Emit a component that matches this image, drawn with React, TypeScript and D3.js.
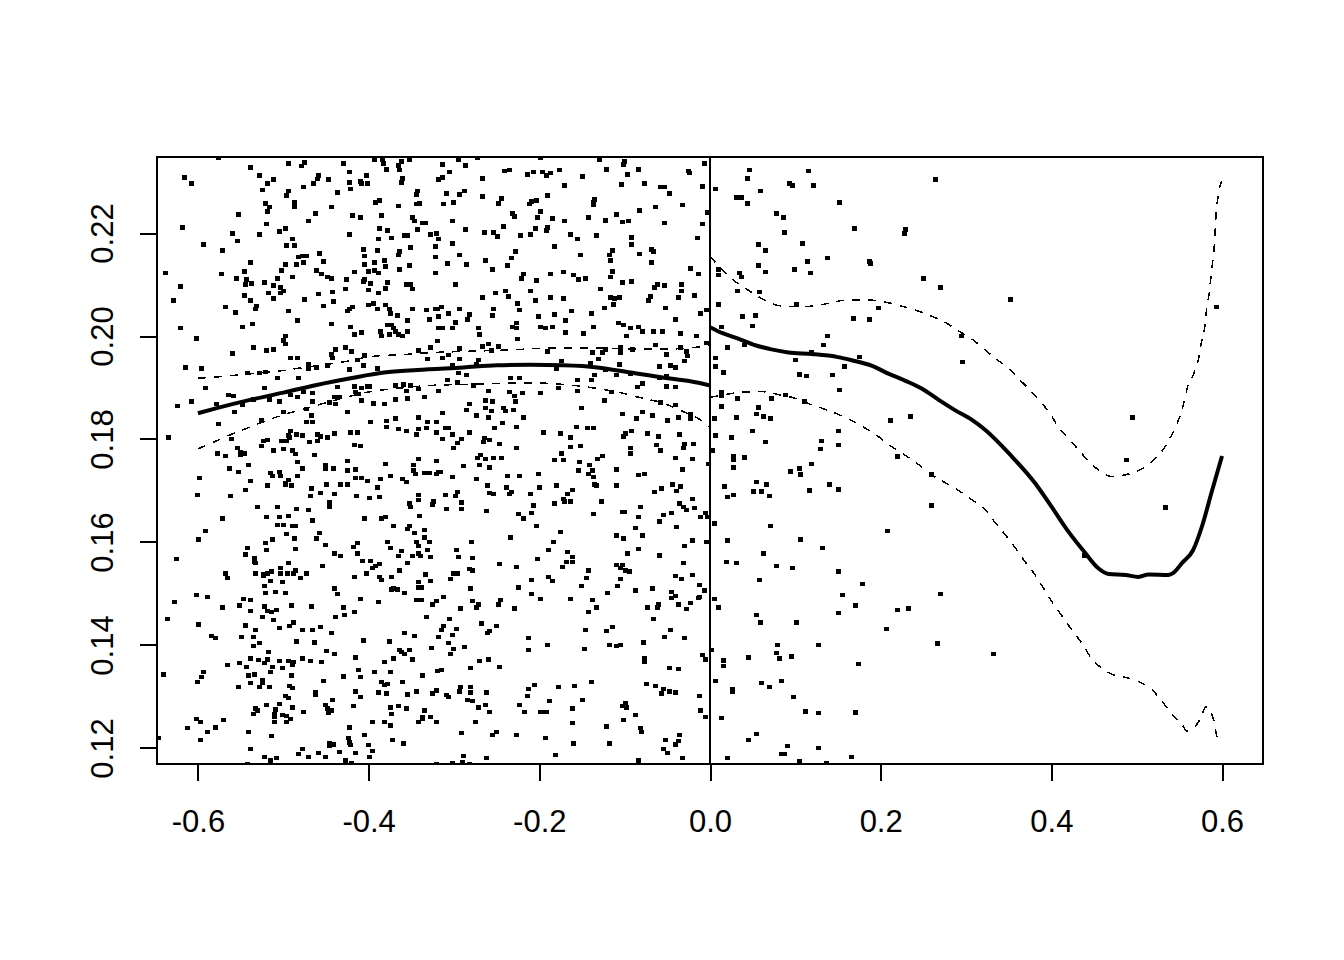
/**
 * Scatter with local fits either side of a cutoff at zero
 */
import { useEffect, useRef } from 'react';
import * as d3 from 'd3';

type Pt = [number, number];

const xTicks = [-0.6, -0.4, -0.2, 0, 0.2, 0.4, 0.6];
const yTicks = [0.12, 0.14, 0.16, 0.18, 0.2, 0.22];

const pointsTopFarLeft: Pt[] = [
[-.576,.2347],[-.538,.2327],[-.494,.2335],[-.475,.2337],[-.479,.2330],[-.430,.2335],[-.393,.2342],[-.384,.2343],[-.383,.2335],[-.361,.2339],[-.352,.2343],[-.365,.2331],[-.364,.2322],[-.379,.2323],[-.616,.2308],[-.608,.2296],[-.528,.2312],[-.512,.2304],[-.518,.2296],[-.459,.2312],[-.460,.2305],[-.465,.2296],[-.447,.2304],[-.423,.2318],[-.402,.2312],[-.422,.2298],[-.410,.2300],[-.408,.2296],[-.401,.2296],[-.360,.2306],[-.361,.2298],[-.318,.2304],[-.524,.2283],[-.494,.2281],[-.496,.2273],[-.476,.2289],[-.436,.2279],[-.421,.2285],[-.343,.2281],[-.344,.2275],[-.521,.2257],[-.516,.2250],[-.518,.2242],[-.487,.2259],[-.487,.2250],[-.444,.2250],[-.392,.2259],[-.387,.2263],[-.365,.2252],[-.344,.2256],[-.340,.2257],[-.552,.2236],[-.462,.2238],[-.419,.2234],[-.409,.2230],[-.385,.2234],[-.349,.2230],[-.346,.2223],[-.337,.2219],[-.333,.2219],[-.470,.2223],[-.520,.2217],[-.618,.2211],[-.559,.2199],[-.528,.2197],[-.505,.2203],[-.497,.2209],[-.422,.2197],[-.387,.2209],[-.378,.2205],[-.343,.2207],[-.358,.2195],[-.354,.2195],[-.327,.2197],[-.321,.2199],[-.554,.2184],[-.489,.2188],[-.388,.2188],[-.373,.2190],[-.318,.2188],[-.593,.2178],[-.496,.2176],[-.487,.2176],[-.351,.2172],[-.322,.2174],[-.571,.2166],[-.406,.2168],[-.390,.2166],[-.364,.2164],[-.365,.2157],[-.457,.2160],[-.405,.2155],[-.322,.2153],[-.482,.2153],[-.477,.2155],[-.473,.2155],[-.539,.2143],[-.453,.2145],[-.476,.2143],[-.484,.2139],[-.497,.2139],[-.405,.2139],[-.393,.2143],[-.382,.2147],[-.380,.2135],[-.352,.2137],[-.364,.2129],[-.502,.2127],[-.545,.2125],[-.461,.2127],[-.400,.2125],[-.393,.2127],[-.389,.2122],[-.417,.2124],[-.638,.2122],[-.572,.2120],[-.455,.2120],[-.322,.2122],[-.555,.2112],[-.543,.2110],[-.507,.2112],[-.489,.2114],[-.448,.2114],[-.444,.2112],[-.426,.2110],[-.405,.2110],[-.406,.2106],[-.544,.2100],[-.537,.2102],[-.522,.2104],[-.398,.2102],[-.378,.2104],[-.356,.2100],[-.351,.2100],[-.620,.2096],[-.512,.2098],[-.503,.2094],[-.349,.2091],[-.427,.2091],[-.400,.2089],[-.380,.2092],[-.388,.2083],[-.517,.2083],[-.500,.2087],[-.503,.2083],[-.545,.2079],[-.459,.2081],[-.442,.2085],[-.511,.2073],[-.629,.2069],[-.538,.2069],[-.475,.2071],[-.441,.2067],[-.568,.2056],[-.531,.2058],[-.532,.2052],[-.453,.2058],[-.419,.2056],[-.422,.2052],[-.425,.2048],[-.400,.2060],[-.394,.2063],[-.390,.2052],[-.380,.2060],[-.376,.2052],[-.374,.2044],[-.349,.2052],[-.332,.2050],[-.322,.2052],[-.319,.2052],[-.556,.2046],[-.494,.2048],[-.366,.2040],[-.318,.2038],[-.483,.2030],[-.329,.2032],[-.355,.2030],[-.536,.2023],[-.548,.2017],[-.620,.2015],[-.444,.2023],[-.421,.2017],[-.378,.2021],[-.373,.2021],[-.371,.2015],[-.318,.2015],[-.386,.2009],[-.385,.2000],[-.417,.2003],[-.408,.2007],[-.375,.2003],[-.368,.2009],[-.365,.2003],[-.360,.2000],[-.355,.2009],[-.497,.2000],[-.602,.1995],[-.500,.1991],[-.498,.1984],[-.319,.1990],[-.535,.1978],[-.520,.1972],[-.511,.1974],[-.427,.1978],[-.439,.1974],[-.420,.1970],[-.559,.1966],[-.444,.1964],[-.341,.1972],[-.328,.1978],[-.405,.1962],[-.491,.1957],[-.483,.1957],[-.442,.1957],
];

const pointsTopNearLeft: Pt[] = [
[-.295,.2343],[-.314,.2333],[-.286,.2331],[-.273,.2347],[-.305,.2318],[-.314,.2308],[-.267,.2306],[-.241,.2320],[-.235,.2322],[-.214,.2314],[-.207,.2318],[-.196,.2318],[-.192,.2312],[-.187,.2316],[-.176,.2322],[-.149,.2310],[-.129,.2343],[-.199,.2347],[-.100,.2339],[-.101,.2333],[-.121,.2323],[-.084,.2323],[-.097,.2314],[-.025,.2320],[-.024,.2316],[-.006,.2335],[-.171,.2292],[-.104,.2294],[-.077,.2296],[-.058,.2289],[-.053,.2289],[-.009,.2290],[-.047,.2277],[-.309,.2277],[-.294,.2275],[-.288,.2281],[-.266,.2271],[-.244,.2267],[-.248,.2257],[-.190,.2273],[-.312,.2256],[-.300,.2259],[-.203,.2263],[-.209,.2261],[-.212,.2256],[-.135,.2265],[-.136,.2259],[-.136,.2254],[-.032,.2254],[-.064,.2250],[-.083,.2244],[-.003,.2240],[-.199,.2242],[-.232,.2238],[-.229,.2232],[-.110,.2236],[-.202,.2230],[-.185,.2228],[-.142,.2230],[-.122,.2224],[-.171,.2223],[-.302,.2223],[-.102,.2221],[-.095,.2223],[-.053,.2219],[-.009,.2217],[-.242,.2213],[-.287,.2207],[-.205,.2209],[-.190,.2211],[-.192,.2205],[-.264,.2201],[-.254,.2201],[-.249,.2193],[-.222,.2195],[-.210,.2197],[-.163,.2197],[-.133,.2195],[-.155,.2188],[-.092,.2191],[-.015,.2190],[-.302,.2180],[-.092,.2178],[-.182,.2174],[-.228,.2164],[-.114,.2166],[-.068,.2168],[-.066,.2164],[-.293,.2157],[-.152,.2157],[-.118,.2157],[-.083,.2159],[-.233,.2151],[-.263,.2147],[-.117,.2147],[-.308,.2141],[-.285,.2139],[-.237,.2137],[-.068,.2143],[-.255,.2129],[-.023,.2131],[-.114,.2125],[-.172,.2124],[-.187,.2120],[-.219,.2120],[-.221,.2112],[-.160,.2118],[-.154,.2110],[-.146,.2112],[-.117,.2114],[-.013,.2120],[-.203,.2108],[-.102,.2104],[-.092,.2106],[-.298,.2100],[-.061,.2100],[-.065,.2094],[-.053,.2098],[-.033,.2100],[-.128,.2091],[-.033,.2087],[-.240,.2087],[-.210,.2087],[-.251,.2083],[-.236,.2077],[-.266,.2075],[-.187,.2075],[-.172,.2073],[-.205,.2069],[-.117,.2075],[-.112,.2073],[-.106,.2075],[-.070,.2077],[-.072,.2069],[-.037,.2075],[-.018,.2079],[-.226,.2063],[-.113,.2061],[-.315,.2056],[-.293,.2052],[-.254,.2052],[-.223,.2050],[-.124,.2054],[-.052,.2054],[-.162,.2048],[-.139,.2044],[-.182,.2042],[-.307,.2044],[-.282,.2042],[-.255,.2040],[-.201,.2038],[-.011,.2044],[-.004,.2050],[-.284,.2032],[-.169,.2030],[-.041,.2032],[-.298,.2026],[-.227,.2025],[-.107,.2025],[-.101,.2021],[-.314,.2015],[-.302,.2015],[-.271,.2015],[-.232,.2017],[-.227,.2015],[-.199,.2017],[-.193,.2015],[-.185,.2017],[-.136,.2017],[-.093,.2015],[-.084,.2017],[-.079,.2009],[-.066,.2009],[-.056,.2009],[-.169,.2007],[-.148,.2005],[-.270,.2003],[-.034,.2005],[-.098,.2000],[-.016,.2000],[-.226,.1994],[-.004,.1986],[-.266,.1980],[-.259,.1984],[-.248,.1980],[-.256,.1972],[-.294,.1976],[-.190,.1970],[-.138,.1968],[-.126,.1968],[-.122,.1974],[-.105,.1978],[-.105,.1968],[-.091,.1974],[-.064,.1982],[-.034,.1978],[-.051,.1964],[-.027,.1970],[-.026,.1961],[-.307,.1963],[-.314,.1957],[-.294,.1955],
];

const pointsMidFarLeft: Pt[] = [
[-.615,.1939],[-.596,.1937],[-.471,.1945],[-.471,.1937],[-.461,.1939],[-.448,.1943],[-.423,.1935],[-.413,.1953],[-.406,.1943],[-.390,.1937],[-.331,.1955],[-.542,.1928],[-.528,.1928],[-.521,.1930],[-.507,.1918],[-.482,.1918],[-.591,.1899],[-.522,.1899],[-.417,.1902],[-.437,.1901],[-.408,.1899],[-.401,.1902],[-.399,.1902],[-.369,.1904],[-.359,.1906],[-.351,.1904],[-.356,.1893],[-.342,.1897],[-.415,.1891],[-.412,.1887],[-.318,.1893],[-.564,.1885],[-.558,.1883],[-.491,.1885],[-.483,.1881],[-.476,.1891],[-.466,.1889],[-.355,.1879],[-.335,.1881],[-.440,.1881],[-.434,.1881],[-.408,.1875],[-.369,.1877],[-.608,.1873],[-.578,.1868],[-.535,.1877],[-.516,.1877],[-.505,.1873],[-.466,.1873],[-.446,.1871],[-.439,.1868],[-.394,.1869],[-.382,.1868],[-.624,.1864],[-.548,.1866],[-.473,.1858],[-.557,.1852],[-.500,.1852],[-.425,.1852],[-.467,.1846],[-.368,.1840],[-.342,.1842],[-.525,.1836],[-.576,.1829],[-.473,.1833],[-.466,.1833],[-.398,.1833],[-.379,.1835],[-.331,.1833],[-.320,.1833],[-.379,.1823],[-.365,.1819],[-.356,.1815],[-.342,.1819],[-.332,.1821],[-.344,.1809],[-.320,.1813],[-.491,.1815],[-.494,.1807],[-.485,.1809],[-.478,.1807],[-.460,.1809],[-.440,.1811],[-.421,.1813],[-.413,.1813],[-.634,.1803],[-.561,.1800],[-.493,.1803],[-.448,.1803],[-.456,.1805],[-.523,.1796],[-.518,.1798],[-.502,.1796],[-.496,.1796],[-.469,.1794],[-.460,.1796],[-.525,.1786],[-.416,.1788],[-.409,.1786],[-.554,.1782],[-.511,.1778],[-.500,.1780],[-.489,.1778],[-.577,.1772],[-.550,.1774],[-.545,.1772],[-.550,.1769],[-.568,.1767],[-.486,.1771],[-.463,.1769],[-.483,.1755],[-.425,.1757],[-.341,.1761],[-.321,.1757],[-.541,.1749],[-.380,.1751],[-.348,.1749],[-.563,.1743],[-.478,.1743],[-.450,.1749],[-.451,.1743],[-.441,.1743],[-.425,.1739],[-.415,.1741],[-.348,.1739],[-.552,.1736],[-.515,.1734],[-.504,.1736],[-.345,.1732],[-.335,.1734],[-.329,.1734],[-.321,.1732],[-.318,.1736],[-.513,.1728],[-.503,.1728],[-.483,.1728],[-.374,.1728],[-.598,.1724],[-.415,.1724],[-.408,.1724],[-.386,.1722],[-.360,.1722],[-.401,.1718],[-.356,.1716],[-.539,.1718],[-.494,.1720],[-.497,.1714],[-.498,.1712],[-.490,.1710],[-.518,.1710],[-.449,.1712],[-.433,.1712],[-.425,.1712],[-.467,.1704],[-.390,.1706],[-.544,.1701],[-.456,.1695],[-.440,.1693],[-.600,.1691],[-.562,.1689],[-.468,.1689],[-.414,.1689],[-.399,.1685],[-.387,.1687],[-.342,.1691],[-.341,.1681],[-.324,.1679],[-.325,.1673],[-.446,.1677],[-.352,.1675],[-.446,.1668],[-.351,.1668],[-.530,.1668],[-.507,.1668],[-.484,.1664],[-.470,.1662],[-.520,.1648],[-.504,.1648],[-.494,.1650],[-.571,.1646],[-.405,.1646],[-.385,.1646],[-.380,.1648],[-.340,.1650],[-.466,.1642],[-.507,.1633],[-.500,.1633],[-.489,.1631],[-.486,.1631],[-.371,.1631],[-.352,.1631],[-.355,.1625],[-.335,.1623],[-.591,.1621],[-.457,.1617],[-.346,.1617],[-.496,.1615],[-.487,.1607],[-.335,.1609],[-.599,.1605],[-.513,.1605],[-.461,.1607],[-.378,.1600],[-.521,.1598],[-.413,.1598],[-.344,.1600],[-.329,.1600],[-.342,.1592],[-.542,.1588],[-.451,.1594],[-.418,.1590],[-.374,.1588],[-.520,.1584],[-.486,.1586],[-.331,.1584],[-.544,.1576],[-.440,.1578],[-.433,.1573],[-.413,.1578],[-.362,.1582],[-.365,.1573],[-.349,.1573],[-.342,.1578],[-.339,.1573],[-.327,.1571],[-.534,.1569],[-.625,.1567],
];

const pointsMidNearLeft: Pt[] = [
[-.174,.1951],[-.140,.1947],[-.131,.1955],[-.106,.1945],[-.030,.1951],[-.059,.1941],[-.046,.1943],[-.041,.1939],[-.302,.1943],[-.271,.1953],[-.274,.1945],[-.180,.1937],[-.295,.1928],[-.285,.1924],[-.135,.1924],[-.122,.1934],[-.109,.1924],[-.093,.1926],[-.059,.1918],[-.051,.1922],[-.234,.1918],[-.223,.1918],[-.155,.1914],[-.139,.1914],[-.308,.1914],[-.296,.1910],[-.277,.1904],[-.079,.1908],[-.085,.1901],[-.051,.1902],[-.041,.1901],[-.177,.1899],[-.260,.1893],[-.235,.1891],[-.220,.1889],[-.199,.1889],[-.155,.1893],[-.115,.1891],[-.229,.1883],[-.228,.1873],[-.263,.1875],[-.255,.1873],[-.124,.1875],[-.058,.1871],[-.282,.1868],[-.040,.1866],[-.263,.1860],[-.242,.1860],[-.285,.1856],[-.256,.1854],[-.240,.1854],[-.230,.1856],[-.150,.1860],[-.314,.1850],[-.274,.1846],[-.260,.1842],[-.219,.1842],[-.102,.1848],[-.079,.1852],[-.067,.1846],[-.037,.1842],[-.023,.1848],[-.023,.1840],[-.086,.1840],[-.050,.1836],[-.243,.1831],[-.252,.1821],[-.227,.1823],[-.157,.1823],[-.143,.1821],[-.136,.1821],[-.310,.1821],[-.306,.1821],[-.302,.1809],[-.282,.1813],[-.195,.1813],[-.175,.1811],[-.092,.1815],[-.099,.1811],[-.101,.1805],[-.073,.1811],[-.060,.1805],[-.036,.1809],[-.163,.1803],[-.314,.1800],[-.291,.1800],[-.264,.1802],[-.265,.1794],[-.258,.1798],[-.296,.1792],[-.247,.1790],[-.063,.1788],[-.030,.1790],[-.019,.1790],[-.301,.1782],[-.227,.1782],[-.163,.1784],[-.152,.1786],[-.093,.1782],[-.031,.1782],[-.058,.1778],[-.093,.1772],[-.174,.1772],[-.269,.1769],[-.126,.1767],[-.272,.1763],[-.263,.1761],[-.254,.1763],[-.244,.1763],[-.182,.1759],[-.172,.1759],[-.132,.1761],[-.040,.1763],[-.020,.1761],[-.153,.1755],[-.002,.1751],[-.270,.1749],[-.289,.1747],[-.258,.1745],[-.141,.1749],[-.138,.1739],[-.154,.1739],[-.109,.1741],[-.032,.1741],[-.316,.1736],[-.142,.1732],[-.201,.1732],[-.084,.1730],[-.077,.1732],[-.302,.1726],[-.237,.1728],[-.223,.1728],[-.136,.1726],[-.274,.1722],[-.135,.1712],[-.133,.1710],[-.180,.1710],[-.109,.1710],[-.044,.1712],[-.035,.1708],[-.261,.1710],[-.238,.1706],[-.200,.1706],[-.057,.1704],[-.161,.1701],[-.296,.1697],[-.065,.1697],[-.039,.1699],[-.258,.1695],[-.254,.1693],[-.233,.1697],[-.235,.1693],[-.210,.1693],[-.167,.1693],[-.310,.1691],[-.298,.1689],[-.172,.1683],[-.170,.1679],[-.163,.1679],[-.020,.1683],[-.291,.1677],[-.127,.1679],[-.182,.1675],[-.036,.1675],[-.207,.1671],[-.081,.1668],[-.031,.1668],[-.018,.1666],[-.027,.1662],[-.309,.1664],[-.291,.1664],[-.262,.1660],[-.224,.1654],[-.209,.1656],[-.136,.1654],[-.102,.1658],[-.100,.1658],[-.045,.1656],[-.054,.1652],[-.005,.1656],[-.011,.1648],[-.003,.1648],[-.084,.1648],[-.219,.1646],[-.059,.1640],[-.203,.1631],[-.087,.1627],[-.039,.1629],[-.175,.1619],[-.109,.1613],[-.079,.1613],[-.234,.1609],[-.101,.1607],[-.280,.1600],[-.183,.1600],[-.021,.1603],[-.004,.1600],[-.030,.1592],[-.189,.1584],[-.084,.1586],[-.297,.1584],[-.167,.1580],[-.097,.1578],[-.295,.1571],[-.278,.1569],[-.202,.1567],[-.161,.1571],[-.059,.1574],
];

const pointsLowFarLeft: Pt[] = [
[-.532,.1559],[-.534,.1561],[-.355,.1559],[-.407,.1563],[-.398,.1563],[-.494,.1559],[-.387,.1557],[-.392,.1553],[-.395,.1549],[-.454,.1553],[-.364,.1545],[-.503,.1549],[-.503,.1539],[-.568,.1539],[-.532,.1539],[-.523,.1537],[-.518,.1539],[-.514,.1543],[-.495,.1539],[-.488,.1539],[-.486,.1545],[-.473,.1539],[-.403,.1539],[-.333,.1537],[-.565,.1530],[-.523,.1534],[-.480,.1530],[-.416,.1532],[-.387,.1532],[-.385,.1526],[-.373,.1532],[-.515,.1524],[-.501,.1522],[-.328,.1524],[-.341,.1522],[-.522,.1514],[-.342,.1512],[-.338,.1512],[-.440,.1510],[-.373,.1508],[-.371,.1510],[-.366,.1508],[-.521,.1501],[-.509,.1503],[-.497,.1501],[-.436,.1499],[-.358,.1501],[-.602,.1497],[-.589,.1493],[-.547,.1489],[-.539,.1487],[-.410,.1489],[-.344,.1487],[-.338,.1487],[-.627,.1483],[-.388,.1483],[-.321,.1485],[-.325,.1479],[-.551,.1477],[-.490,.1477],[-.522,.1475],[-.571,.1473],[-.467,.1475],[-.429,.1473],[-.538,.1466],[-.518,.1466],[-.514,.1464],[-.508,.1468],[-.416,.1464],[-.428,.1458],[-.524,.1454],[-.439,.1454],[-.332,.1454],[-.636,.1450],[-.511,.1448],[-.488,.1444],[-.599,.1440],[-.544,.1438],[-.493,.1437],[-.504,.1433],[-.456,.1435],[-.532,.1429],[-.478,.1429],[-.466,.1429],[-.443,.1423],[-.358,.1423],[-.584,.1417],[-.579,.1413],[-.549,.1415],[-.535,.1415],[-.346,.1417],[-.318,.1415],[-.406,.1409],[-.375,.1407],[-.484,.1407],[-.463,.1405],[-.528,.1404],[-.535,.1398],[-.326,.1394],[-.449,.1388],[-.364,.1390],[-.352,.1390],[-.362,.1386],[-.358,.1382],[-.517,.1386],[-.440,.1382],[-.539,.1374],[-.518,.1372],[-.477,.1374],[-.415,.1376],[-.371,.1374],[-.349,.1372],[-.529,.1371],[-.504,.1369],[-.494,.1369],[-.488,.1367],[-.468,.1369],[-.455,.1367],[-.381,.1367],[-.551,.1365],[-.522,.1365],[-.565,.1361],[-.543,.1357],[-.513,.1357],[-.501,.1355],[-.489,.1361],[-.412,.1351],[-.593,.1347],[-.515,.1347],[-.393,.1347],[-.374,.1347],[-.319,.1349],[-.640,.1343],[-.541,.1341],[-.534,.1343],[-.490,.1341],[-.337,.1341],[-.596,.1338],[-.430,.1339],[-.409,.1338],[-.524,.1332],[-.600,.1328],[-.539,.1326],[-.524,.1326],[-.453,.1330],[-.385,.1328],[-.382,.1322],[-.378,.1324],[-.360,.1328],[-.552,.1318],[-.528,.1318],[-.516,.1318],[-.493,.1320],[-.489,.1316],[-.415,.1310],[-.462,.1308],[-.462,.1304],[-.388,.1308],[-.379,.1306],[-.344,.1310],[-.321,.1312],[-.325,.1306],[-.354,.1304],[-.498,.1301],[-.494,.1297],[-.409,.1299],[-.442,.1293],[-.505,.1285],[-.520,.1283],[-.451,.1283],[-.418,.1281],[-.365,.1281],[-.374,.1279],[-.356,.1277],[-.489,.1279],[-.532,.1277],[-.509,.1275],[-.448,.1277],[-.443,.1273],[-.335,.1273],[-.530,.1273],[-.476,.1270],[-.447,.1268],[-.535,.1266],[-.510,.1266],[-.501,.1264],[-.373,.1266],[-.510,.1260],[-.496,.1262],[-.337,.1260],[-.327,.1260],[-.602,.1256],[-.570,.1254],[-.492,.1256],[-.337,.1256],[-.597,.1250],[-.510,.1250],[-.496,.1250],[-.395,.1250],[-.381,.1250],[-.341,.1250],[-.321,.1250],[-.374,.1244],[-.612,.1239],[-.579,.1240],[-.422,.1240],[-.589,.1231],[-.541,.1231],[-.514,.1223],[-.405,.1225],[-.646,.1219],[-.424,.1219],[-.597,.1215],[-.372,.1215],[-.359,.1209],[-.423,.1211],[-.421,.1206],[-.446,.1209],[-.441,.1207],[-.446,.1204],[-.400,.1206],[-.538,.1198],[-.478,.1198],[-.396,.1194],[-.482,.1188],[-.459,.1190],[-.434,.1192],[-.415,.1190],[-.522,.1182],[-.508,.1180],[-.471,.1182],[-.451,.1182],[-.399,.1182],[-.515,.1176],[-.427,.1176],[-.542,.1169],[-.420,.1171],[-.320,.1169],
];

const pointsLowNearLeft: Pt[] = [
[-.247,.1557],[-.227,.1551],[-.173,.1551],[-.168,.1561],[-.161,.1561],[-.109,.1555],[-.102,.1555],[-.105,.1549],[-.099,.1545],[-.094,.1543],[-.031,.1559],[-.282,.1547],[-.278,.1545],[-.142,.1545],[-.301,.1539],[-.296,.1539],[-.304,.1528],[-.209,.1526],[-.189,.1532],[-.185,.1524],[-.145,.1530],[-.105,.1528],[-.041,.1534],[-.033,.1528],[-.021,.1536],[-.281,.1510],[-.224,.1512],[-.150,.1514],[-.108,.1514],[-.087,.1506],[-.067,.1510],[-.012,.1516],[-.007,.1506],[-.045,.1503],[-.209,.1499],[-.120,.1501],[-.041,.1495],[-.045,.1491],[-.312,.1493],[-.012,.1493],[-.199,.1489],[-.163,.1489],[-.138,.1487],[-.278,.1485],[-.246,.1487],[-.014,.1491],[-.271,.1479],[-.274,.1473],[-.248,.1479],[-.060,.1479],[-.037,.1479],[-.023,.1481],[-.292,.1471],[-.229,.1471],[-.133,.1473],[-.073,.1473],[-.062,.1473],[-.027,.1470],[-.142,.1464],[-.305,.1450],[-.066,.1450],[-.268,.1442],[-.312,.1437],[-.250,.1437],[-.114,.1435],[-.315,.1429],[-.297,.1431],[-.146,.1429],[-.121,.1427],[-.046,.1429],[-.258,.1427],[-.261,.1423],[-.302,.1419],[-.213,.1413],[-.053,.1415],[-.030,.1413],[-.078,.1405],[-.306,.1404],[-.190,.1400],[-.118,.1400],[-.109,.1398],[-.105,.1400],[-.288,.1396],[-.301,.1392],[-.213,.1390],[-.147,.1392],[-.304,.1382],[-.009,.1380],[-.005,.1372],[-.077,.1374],[-.077,.1367],[-.270,.1369],[-.260,.1372],[-.281,.1355],[-.247,.1357],[-.315,.1351],[-.048,.1355],[-.037,.1353],[-.139,.1328],[-.206,.1322],[-.177,.1318],[-.159,.1320],[-.074,.1324],[-.064,.1320],[-.292,.1318],[-.281,.1318],[-.213,.1314],[-.055,.1314],[-.294,.1310],[-.281,.1308],[-.262,.1308],[-.057,.1306],[-.048,.1310],[-.040,.1308],[-.309,.1303],[-.306,.1299],[-.214,.1301],[-.012,.1301],[-.284,.1293],[-.278,.1291],[-.188,.1291],[-.149,.1293],[-.099,.1287],[-.263,.1283],[-.223,.1283],[-.102,.1281],[-.098,.1279],[-.271,.1279],[-.161,.1277],[-.011,.1273],[-.258,.1270],[-.217,.1270],[-.199,.1270],[-.195,.1270],[-.192,.1270],[-.087,.1264],[-.005,.1260],[-.101,.1254],[-.275,.1250],[-.161,.1248],[-.121,.1242],[-.082,.1239],[-.080,.1231],[-.291,.1229],[-.250,.1231],[-.255,.1225],[-.227,.1225],[-.193,.1219],[-.036,.1225],[-.052,.1215],[-.037,.1213],[-.041,.1207],[-.160,.1209],[-.118,.1209],[-.055,.1198],[-.050,.1190],[-.289,.1184],[-.181,.1186],[-.262,.1180],[-.032,.1180],[-.084,.1176],[-.290,.1173],[-.302,.1171],[-.282,.1169],[-.321,.1169],
];

const pointsRight: Pt[] = [
[.046,.2322],[.115,.2320],[.044,.2306],[.264,.2304],[.093,.2296],[.097,.2292],[.121,.2292],[.006,.2285],[.059,.2281],[.031,.2269],[.037,.2269],[.044,.2257],[.152,.2259],[.078,.2238],[.086,.2230],[.169,.2209],[.229,.2207],[.228,.2199],[.087,.2201],[.108,.2180],[.057,.2178],[.065,.2166],[.138,.2151],[.114,.2145],[.187,.2145],[.188,.2141],[.057,.2137],[.099,.2129],[.010,.2129],[.010,.2118],[.034,.2122],[.037,.2114],[.065,.2124],[.118,.2122],[.250,.2112],[.270,.2094],[.032,.2087],[.058,.2085],[.010,.2061],[.101,.2061],[.197,.2054],[.053,.2040],[.038,.2038],[.168,.2034],[.187,.2032],[.050,.2019],[.014,.2017],[.138,.2000],[.295,.2000],[.133,.1982],[.021,.1978],[.040,.1982],[.119,.1968],[.175,.1959],[.006,.1957],[.100,.1953],[.296,.1949],[.006,.1941],[.158,.1941],[.016,.1929],[.105,.1925],[.113,.1922],[.143,.1924],[.152,.1895],[.014,.1891],[.013,.1883],[.032,.1879],[.072,.1879],[.088,.1885],[.111,.1873],[.014,.1863],[.057,.1861],[.054,.1848],[.063,.1844],[.071,.1840],[.031,.1842],[.005,.1840],[.235,.1844],[.211,.1836],[.050,.1815],[.151,.1815],[.007,.1807],[.025,.1803],[.065,.1794],[.131,.1796],[.151,.1788],[.129,.1780],[.003,.1778],[.027,.1766],[.040,.1764],[.220,.1766],
[.027,.1759],[.028,.1745],[.119,.1751],[.105,.1743],[.094,.1737],[.106,.1731],[.260,.1731],[.054,.1716],[.066,.1712],[.140,.1712],[.017,.1708],[.051,.1698],[.060,.1698],[.117,.1700],[.151,.1702],[.028,.1691],[.021,.1687],[.070,.1689],[.260,.1671],[.005,.1636],[.071,.1631],[.208,.1621],[.021,.1603],[.106,.1605],[.132,.1588],[.063,.1578],[.019,.1561],[.031,.1559],[.078,.1553],[.097,.1549],[.151,.1543],[.058,.1526],[.179,.1518],[.270,.1499],[.155,.1497],[.005,.1489],[.010,.1473],[.170,.1477],[.220,.1468],[.233,.1471],[.151,.1462],[.055,.1458],[.059,.1444],[.101,.1444],[.207,.1431],[.079,.1400],[.127,.1400],[.267,.1403],[.002,.1390],[.078,.1384],[.082,.1374],[.095,.1378],[.045,.1376],[.016,.1370],[.016,.1359],[.174,.1363],[.006,.1330],[.060,.1326],[.084,.1330],[.070,.1318],[.026,.1314],[.026,.1310],[.098,.1299],[.112,.1271],[.127,.1268],[.170,.1269],[.014,.1258],[.055,.1227],[.045,.1215],[.091,.1204],[.127,.1200],[.084,.1188],[.087,.1188],[.021,.1180],[.166,.1182],[.105,.1174],[.136,.1170],
[.352,.2071],[.594,.2056],[.495,.1842],[.488,.1759],[.534,.1667],[.332,.1382],[.439,.1574],
];

const fitLeft: Pt[] = [
[-.6,.1850],[-.578,.1860],[-.539,.1876],[-.5,.1890],[-.461,.1905],[-.421,.1918],[-.382,.1929],[-.343,.1934],[-.289,.1939],[-.25,.1943],[-.211,.1944],[-.172,.1943],[-.132,.1939],[-.093,.1929],[-.054,.1919],[-.023,.1912],[0,.1904],
];
const upperLeft: Pt[] = [
[-.6,.1918],[-.574,.1921],[-.543,.1926],[-.523,.1929],[-.5,.1933],[-.484,.1937],[-.453,.1944],[-.429,.1950],[-.398,.1960],[-.359,.1964],[-.324,.1968],[-.289,.1970],[-.234,.1973],[-.18,.1977],[-.14,.1977],[-.086,.1975],[-.047,.1975],[-.012,.1979],[0,.1982],
];
const lowerLeft: Pt[] = [
[-.6,.1781],[-.576,.1798],[-.558,.1811],[-.541,.1822],[-.523,.1834],[-.5,.1847],[-.472,.1860],[-.449,.1871],[-.429,.1880],[-.398,.1892],[-.374,.1897],[-.328,.1904],[-.289,.1906],[-.25,.1908],[-.211,.1909],[-.172,.1906],[-.14,.1900],[-.105,.1890],[-.086,.1882],[-.058,.1871],[-.031,.1853],[-.011,.1837],[0,.1823],
];
const fitRight: Pt[] = [
[0,.2017],[.014,.2006],[.033,.1995],[.053,.1982],[.072,.1974],[.092,.1968],[.119,.1965],[.15,.1959],[.166,.1953],[.19,.1942],[.209,.1927],[.229,.1913],[.248,.1898],[.268,.1876],[.287,.1856],[.307,.1837],[.323,.1817],[.352,.1769],[.381,.1714],[.4,.1669],[.42,.1620],[.44,.1578],[.455,.1549],[.467,.1538],[.487,.1536],[.502,.1532],[.514,.1537],[.537,.1536],[.543,.1540],[.553,.1559],[.566,.1584],[.577,.1633],[.588,.1698],[.6,.1767],
];
const upperRight: Pt[] = [
[0,.2155],[.014,.2129],[.027,.2109],[.043,.2091],[.057,.2076],[.074,.2062],[.092,.2057],[.111,.2057],[.131,.2061],[.162,.2070],[.186,.2070],[.201,.2067],[.237,.2052],[.256,.2041],[.276,.2026],[.293,.2008],[.307,.1994],[.321,.1975],[.334,.1957],[.35,.1937],[.361,.1918],[.375,.1895],[.385,.1876],[.397,.1853],[.408,.1824],[.42,.1801],[.434,.1775],[.444,.1756],[.457,.1738],[.471,.1727],[.488,.1731],[.506,.1742],[.522,.1763],[.532,.1782],[.541,.1808],[.549,.1837],[.555,.1869],[.559,.1898],[.567,.1927],[.573,.1960],[.576,.1989],[.58,.2021],[.582,.2054],[.585,.2083],[.587,.2115],[.589,.2144],[.591,.2177],[.592,.2206],[.593,.2238],[.595,.2267],[.6,.2303],
];
const lowerRight: Pt[] = [
[0,.1881],[.014,.1885],[.037,.1891],[.06,.1892],[.084,.1885],[.1,.1879],[.115,.1869],[.131,.1860],[.15,.1848],[.166,.1836],[.182,.1821],[.197,.1805],[.213,.1785],[.229,.1768],[.244,.1751],[.26,.1730],[.278,.1713],[.293,.1698],[.307,.1682],[.323,.1662],[.334,.1638],[.346,.1614],[.358,.1588],[.369,.1562],[.381,.1536],[.392,.1507],[.402,.1481],[.413,.1455],[.424,.1429],[.436,.1403],[.447,.1374],[.459,.1355],[.473,.1342],[.49,.1336],[.506,.1326],[.518,.1313],[.53,.1290],[.541,.1266],[.553,.1246],[.559,.1233],[.575,.1258],[.581,.1280],[.59,.1255],[.595,.1216],[.598,.1210],
];

const points: Pt[] = [
  ...pointsTopFarLeft, ...pointsTopNearLeft, ...pointsMidFarLeft,
  ...pointsMidNearLeft, ...pointsLowFarLeft, ...pointsLowNearLeft, ...pointsRight,
];

const FONT = '"Liberation Sans", Arial, sans-serif';

export default function App() {
  const svgRef = useRef<SVGSVGElement>(null);

  useEffect(() => {
    if (!svgRef.current) return;
    const svg = d3.select(svgRef.current);
    svg.selectAll('*').remove();

    const left = 157, right = 1263, top = 157, bottom = 764;
    const x = d3.scaleLinear().domain([-0.648, 0.648]).range([left, right]);
    const y = d3.scaleLinear().domain([0.11689, 0.23476]).range([bottom, top]);

    svg.append('defs').append('clipPath').attr('id', 'plot')
      .append('rect').attr('x', left).attr('y', top)
      .attr('width', right - left).attr('height', bottom - top);

    const plot = svg.append('g').attr('clip-path', 'url(#plot)');

    plot.selectAll('rect.pt').data(points).join('rect')
      .attr('class', 'pt')
      .attr('x', d => x(d[0]) - 2.5)
      .attr('y', d => y(d[1]) - 2.2)
      .attr('width', 5)
      .attr('height', 4.4)
      .attr('fill', '#000')
      .attr('shape-rendering', 'crispEdges');

    const line = d3.line<Pt>().x(d => x(d[0])).y(d => y(d[1])).curve(d3.curveMonotoneX);

    // fits
    [fitLeft, fitRight].forEach(d => {
      plot.append('path').attr('d', line(d)).attr('fill', 'none')
        .attr('stroke', '#000').attr('stroke-width', 4);
    });
    // confidence bands
    [upperLeft, lowerLeft, upperRight, lowerRight].forEach(d => {
      plot.append('path').attr('d', line(d))
        .attr('fill', 'none').attr('stroke', '#000')
        .attr('stroke-width', 1.5).attr('stroke-dasharray', '8 8')
        .attr('shape-rendering', 'crispEdges');
    });

    // cutoff
    svg.append('line')
      .attr('x1', x(0)).attr('x2', x(0))
      .attr('y1', top).attr('y2', bottom)
      .attr('stroke', '#000').attr('stroke-width', 2)
      .attr('shape-rendering', 'crispEdges');

    svg.append('rect')
      .attr('x', left).attr('y', top)
      .attr('width', right - left).attr('height', bottom - top)
      .attr('fill', 'none').attr('stroke', '#000').attr('stroke-width', 2)
      .attr('shape-rendering', 'crispEdges');

    // Axes, R style
    const xAxis = svg.append('g').attr('transform', `translate(0, ${bottom})`)
      .call(d3.axisBottom(x).tickValues(xTicks).tickSize(17).tickPadding(29)
        .tickFormat(d => (d as number).toFixed(1)));
    xAxis.select('.domain').remove();
    xAxis.selectAll('line').attr('stroke', '#000').attr('stroke-width', 2).attr('shape-rendering', 'crispEdges');
    xAxis.selectAll('text').attr('font-family', FONT).attr('font-size', 31).attr('fill', '#000');

    const yAxis = svg.append('g').attr('transform', `translate(${left}, 0)`)
      .call(d3.axisLeft(y).tickValues(yTicks).tickSize(17)
        .tickFormat(d => (d as number).toFixed(2)));
    yAxis.select('.domain').remove();
    yAxis.selectAll('line').attr('stroke', '#000').attr('stroke-width', 2).attr('shape-rendering', 'crispEdges');
    yAxis.selectAll<SVGTextElement, number>('text')
      .attr('font-family', FONT).attr('font-size', 31).attr('fill', '#000')
      .attr('text-anchor', 'middle')
      .attr('dy', null)
      .attr('x', null)
      .attr('transform', 'translate(-44, 0) rotate(-90)');
  }, []);

  return (
    <svg
      ref={svgRef}
      width={1344}
      height={960}
      style={{ position: 'absolute', left: 0, top: 0, background: '#fff' }}
    />
  );
}
